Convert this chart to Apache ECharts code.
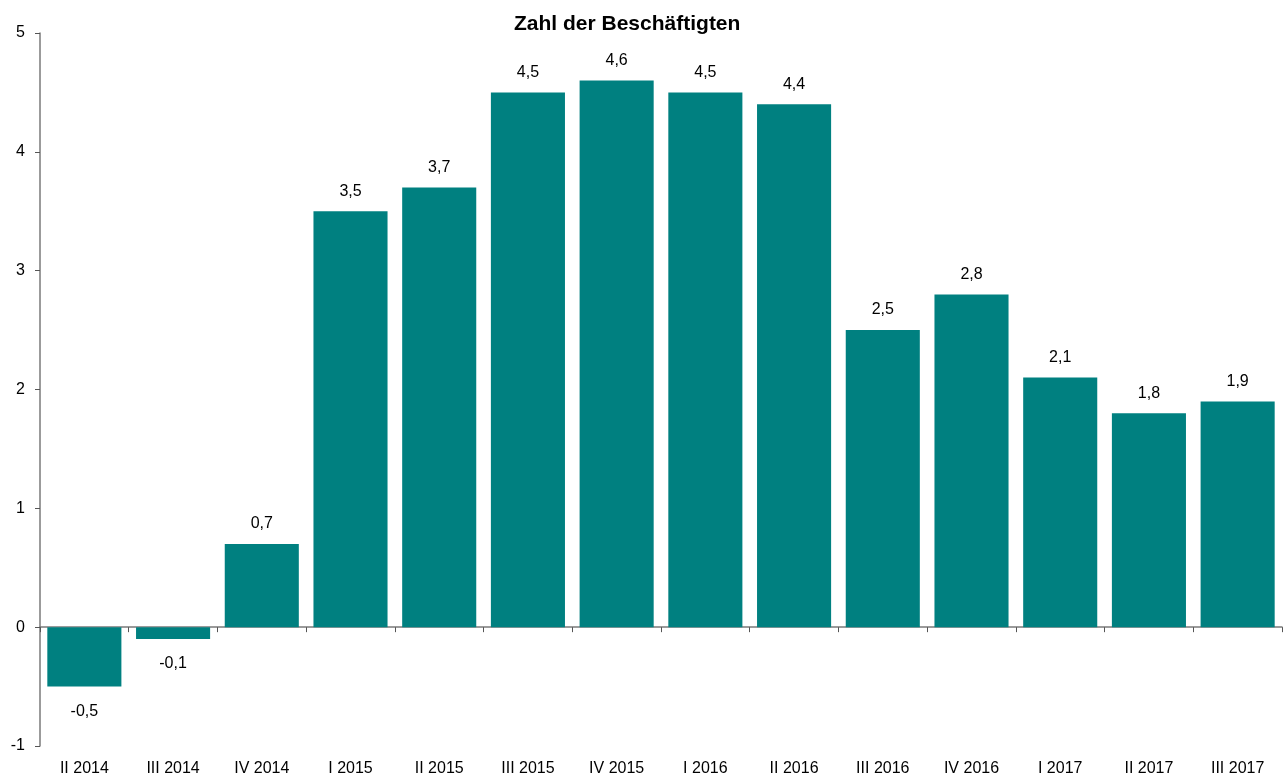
<!DOCTYPE html>
<html><head><meta charset="utf-8">
<script src="https://cdn.jsdelivr.net/npm/echarts@6/dist/echarts.min.js"></script>
<style>html,body{margin:0;padding:0;background:#fff}#c{width:1284px;height:779px}</style>
</head><body><div id="c"></div>
<script>
const categories = ['II 2014','III 2014','IV 2014','I 2015','II 2015','III 2015','IV 2015','I 2016','II 2016','III 2016','IV 2016','I 2017','II 2017','III 2017'];
const values = [-0.5,-0.1,0.7,3.5,3.7,4.5,4.6,4.5,4.4,2.5,2.8,2.1,1.8,1.9];
const yTicks = [-1,0,1,2,3,4,5];
const title = 'Zahl der Beschäftigten';

const font = 'Liberation Sans, Arial, sans-serif';
const chart = echarts.init(document.getElementById('c'));
chart.setOption({
  animation: false,
  title: {text: title, left: 509, top: 9, textStyle: {fontFamily: font, fontSize: 21, fontWeight: 'bold', color: '#000'}},
  grid: {left: 40, right: 2, top: 33, bottom: 33, containLabel: false},
  xAxis: [
    {type: 'category', data: categories, position: 'bottom',
     axisLine: {onZero: true, lineStyle: {color: '#7a7a7a', width: 1.5}},
     axisTick: {show: true, length: 5, lineStyle: {color: '#555'}},
     axisLabel: {show: false}},
    {type: 'category', data: categories, position: 'bottom',
     axisLine: {show: false, onZero: false}, axisTick: {show: false},
     axisLabel: {fontFamily: font, fontSize: 16, color: '#000', margin: 15, interval: 0}}
  ],
  yAxis: {type: 'value', min: yTicks[0], max: yTicks[yTicks.length-1], interval: 1,
    axisLine: {show: true, lineStyle: {color: '#7a7a7a', width: 1.5}},
    axisTick: {show: true, length: 5, lineStyle: {color: '#555'}},
    splitLine: {show: false},
    axisLabel: {fontFamily: font, fontSize: 16, color: '#000', margin: 15, formatter: v => String(v)}},
  series: [{
    type: 'bar', xAxisIndex: 0, barCategoryGap: '16.5%',
    data: values.map(v => ({value: v, label: {position: v < 0 ? 'bottom' : 'top', distance: v < 0 ? 17 : 12}})),
    itemStyle: {color: '#008080'},
    label: {show: true, fontFamily: font, fontSize: 16, color: '#000',
      formatter: p => String(p.value).replace('.', ',')}
  }]
});
</script></body></html>
